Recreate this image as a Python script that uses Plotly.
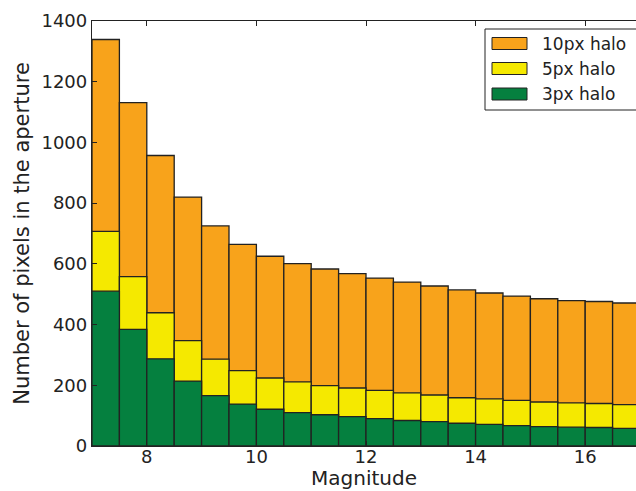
import plotly.graph_objects as go

# Data
bin_left = [7.0, 7.5, 8.0, 8.5, 9.0, 9.5, 10.0, 10.5, 11.0, 11.5,
            12.0, 12.5, 13.0, 13.5, 14.0, 14.5, 15.0, 15.5, 16.0, 16.5]
halo10 = [1339, 1131, 957, 820, 725, 664, 625, 601, 583, 568,
          553, 540, 527, 514, 504, 494, 485, 479, 476, 471]
halo5 = [707, 558, 439, 347, 286, 248, 224, 211, 199, 191,
         183, 175, 168, 159, 155, 150, 145, 142, 140, 136]
halo3 = [510, 384, 287, 214, 166, 138, 121, 110, 103, 97,
         90, 84, 80, 75, 71, 67, 64, 62, 61, 58]
labels = ["10px halo", "5px halo", "3px halo"]
colors = ["#F8A31B", "#F5E900", "#05803F"]
bin_width = 0.5
yticks = [0, 200, 400, 600, 800, 1000, 1200, 1400]
xticks = [8, 10, 12, 14, 16]

W, H = 636, 491
ML, MR, MT, MB = 92, 0, 21, 45
PW, PH = W - ML - MR, H - MT - MB

fig = go.Figure()
centers = [b + bin_width / 2 for b in bin_left]
for name, vals, col in zip(labels, [halo10, halo5, halo3], colors):
    fig.add_trace(go.Bar(x=centers, y=vals, width=bin_width, name=name,
                         marker=dict(color=col, line=dict(color="#222222", width=1.3)),
                         showlegend=False))

font_main = "DejaVu Sans"
fig.update_layout(
    width=W, height=H, barmode="overlay",
    margin=dict(l=ML, r=MR, t=MT, b=MB),
    plot_bgcolor="white", paper_bgcolor="white",
    font=dict(family=font_main, color="#222222"),
)
fig.update_xaxes(range=[7, 7 + PW / 54.8], tickvals=xticks, ticks="inside", ticklen=5,
                 tickcolor="#222", showline=True, linecolor="#222", linewidth=1.3,
                 mirror="ticks", showgrid=False, zeroline=False, automargin=False,
                 tickfont=dict(size=18), ticklabelstandoff=-6)
fig.update_yaxes(range=[0, 1400], tickvals=yticks, ticks="inside", ticklen=5,
                 tickcolor="#222", showline=True, linecolor="#222", linewidth=1.3,
                 showgrid=False, zeroline=False, tickfont=dict(size=18), automargin=False,
                 title=dict(text="Number of pixels in the aperture", font=dict(size=21), standoff=6))

# Pixel -> paper helpers for decorations
def px(x):
    return (x - ML) / PW

def py(y):
    return (H - MB - y) / PH

# X axis title
fig.add_annotation(xref="paper", yref="paper", x=0.5, y=py(491), text="Magnitude",
                   showarrow=False, xanchor="center", yanchor="bottom",
                   font=dict(size=20, color="#222"), borderpad=0)

# Manual legend
fig.add_shape(type="rect", xref="paper", yref="paper", x0=px(485), x1=px(645),
              y0=py(110), y1=py(29), line=dict(color="#222", width=1), fillcolor="white",
              layer="above")
rows = [43.5, 68.5, 94]
for name, col, ry in zip(labels, colors, rows):
    fig.add_shape(type="rect", xref="paper", yref="paper", x0=px(492), x1=px(527),
                  y0=py(ry + 6), y1=py(ry - 6), line=dict(color="#222", width=1),
                  fillcolor=col, layer="above")
    fig.add_annotation(xref="paper", yref="paper", x=px(540), y=py(ry), text=name,
                       showarrow=False, xanchor="left", yanchor="middle",
                       font=dict(size=17, color="#222"))

fig.write_html("out.html")
